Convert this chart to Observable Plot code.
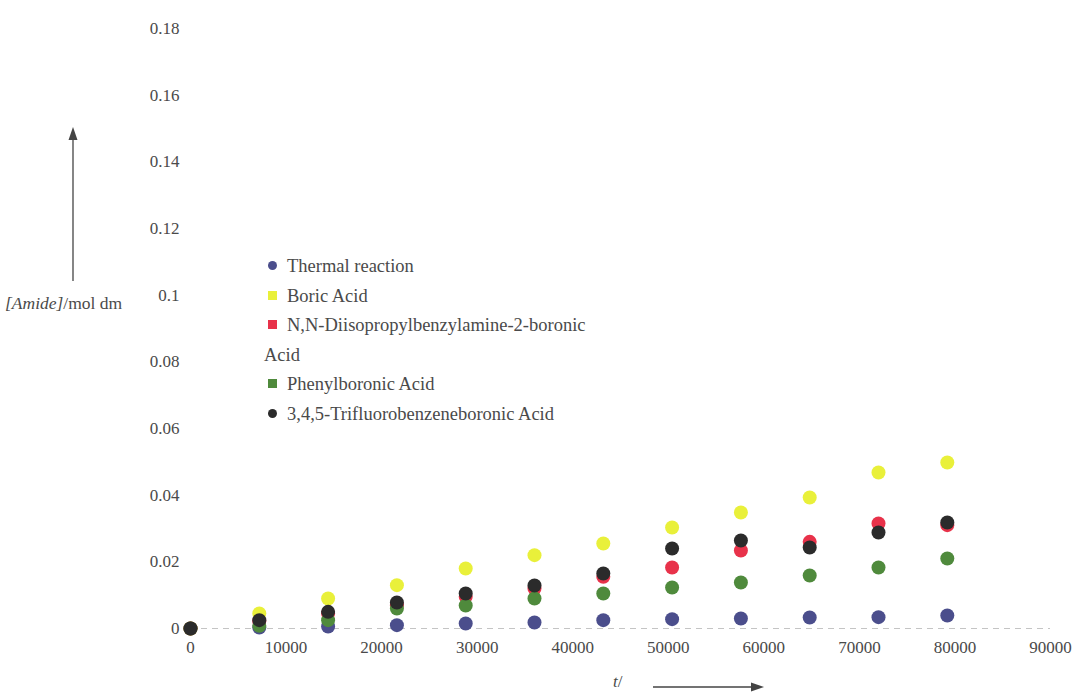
<!DOCTYPE html>
<html>
<head>
<meta charset="utf-8">
<script src="https://cdn.jsdelivr.net/npm/d3@7"></script>
<script src="https://cdn.jsdelivr.net/npm/@observablehq/plot@0.6"></script>
<style>
  body { margin: 0; background: #fff; }
  #wrap { position: relative; width: 1083px; height: 693px; font-family: "Liberation Serif", "Times New Roman", Times, "DejaVu Serif", serif; color: #4a4a4a; }
  #legend { position: absolute; left: 264px; top: 252px; width: 352px; font-size: 18.5px; line-height: 29.5px; }
  #legend .mk { display: inline-block; width: 9px; height: 9px; margin-left: 4px; margin-right: 10px; vertical-align: 2px; }
  #ytitle { position: absolute; left: 5px; top: 293px; font-size: 17.5px; white-space: nowrap; }
  #xtitle { position: absolute; left: 613px; top: 672px; font-size: 17px; }
</style>
</head>
<body>
<div id="wrap">
  <div id="chart"></div>
  <div id="legend"></div>
  <div id="ytitle"><i>[Amide]</i>/mol dm</div>
  <div id="xtitle"><i>t</i>/</div>
</div>
<script>
// time in seconds
const times = [0, 7200, 14400, 21600, 28800, 36000, 43200, 50400, 57600, 64800, 72000, 79200];

const seriesNames = [
  "Thermal reaction",
  "Boric Acid",
  "N,N-Diisopropylbenzylamine-2-boronic Acid",
  "Phenylboronic Acid",
  "3,4,5-Trifluorobenzeneboronic Acid"
];
const seriesColors = ["#4b4e8c", "#e9f03a", "#e8324a", "#4f8a3c", "#2b2b2b"];
const legendShapes = ["circle", "square", "square", "square", "circle"];

const thermal = [0, 0.0003, 0.0006, 0.001, 0.0015, 0.0018, 0.0025, 0.0028, 0.003, 0.0033, 0.0034, 0.0039];
const boric   = [0, 0.0045, 0.009, 0.013, 0.018, 0.022, 0.0255, 0.0303, 0.0348, 0.0393, 0.0468, 0.0498];
const nnDiiso = [0, 0.0022, 0.0045, 0.007, 0.0095, 0.012, 0.0155, 0.0183, 0.0234, 0.026, 0.0315, 0.031];
const phenyl  = [0, 0.0008, 0.0025, 0.006, 0.0069, 0.009, 0.0105, 0.0123, 0.0138, 0.0159, 0.0183, 0.021];
const trifluoro = [0, 0.0025, 0.005, 0.0078, 0.0105, 0.0129, 0.0165, 0.024, 0.0264, 0.0243, 0.0288, 0.0318];

const xTicks = [0, 10000, 20000, 30000, 40000, 50000, 60000, 70000, 80000, 90000];
const yTicks = [0, 0.02, 0.04, 0.06, 0.08, 0.1, 0.12, 0.14, 0.16, 0.18];

const seriesValues = [thermal, boric, nnDiiso, phenyl, trifluoro];
const table = [];
seriesNames.forEach((name, i) => {
  seriesValues[i].forEach((v, j) => table.push({series: name, t: times[j], v}));
});

const chart = Plot.plot({
  width: 1083,
  height: 693,
  marginLeft: 190,
  marginRight: 33,
  marginTop: 28,
  marginBottom: 65,
  style: { fontFamily: "'Liberation Serif', 'Times New Roman', Times, 'DejaVu Serif', serif", fontSize: "17px", color: "#4a4a4a", background: "#fff" },
  x: { domain: [0, 90000], label: null },
  y: { domain: [0, 0.18], label: null },
  color: { domain: seriesNames, range: seriesColors },
  marks: [
    Plot.ruleY([0], { stroke: "#c4c4c4", strokeDasharray: "6,5", strokeWidth: 1 }),
    Plot.axisX({ ticks: xTicks, tickSize: 0, tickPadding: 12, tickFormat: d => String(d), label: null, fontSize: 17 }),
    Plot.axisY({ ticks: yTicks, tickSize: 0, tickPadding: 11, tickFormat: d => String(+d.toFixed(2)), label: null, fontSize: 17 }),
    Plot.dot(table, { x: "t", y: "v", fill: "series", r: 7, stroke: "none" })
  ]
});
document.getElementById("chart").appendChild(chart);

// axis-title arrows (annotation decorations)
const svg = d3.select(chart);
const g = svg.append("g").attr("fill", "#444").attr("stroke", "#444");
g.append("line").attr("x1", 73).attr("y1", 281).attr("x2", 73).attr("y2", 138).attr("stroke-width", 1.3);
g.append("polygon").attr("points", "73,127 68.5,140 77.5,140").attr("stroke", "none");
g.append("line").attr("x1", 653).attr("y1", 687).attr("x2", 752).attr("y2", 687).attr("stroke-width", 1.3);
g.append("polygon").attr("points", "764,687 751,682.5 751,691.5").attr("stroke", "none");

// legend
const lg = document.getElementById("legend");
seriesNames.forEach((name, i) => {
  const row = document.createElement("div");
  const mk = document.createElement("span");
  mk.className = "mk";
  mk.style.background = seriesColors[i];
  if (legendShapes[i] === "circle") mk.style.borderRadius = "50%";
  row.appendChild(mk);
  row.appendChild(document.createTextNode(name));
  lg.appendChild(row);
});
</script>
</body>
</html>
